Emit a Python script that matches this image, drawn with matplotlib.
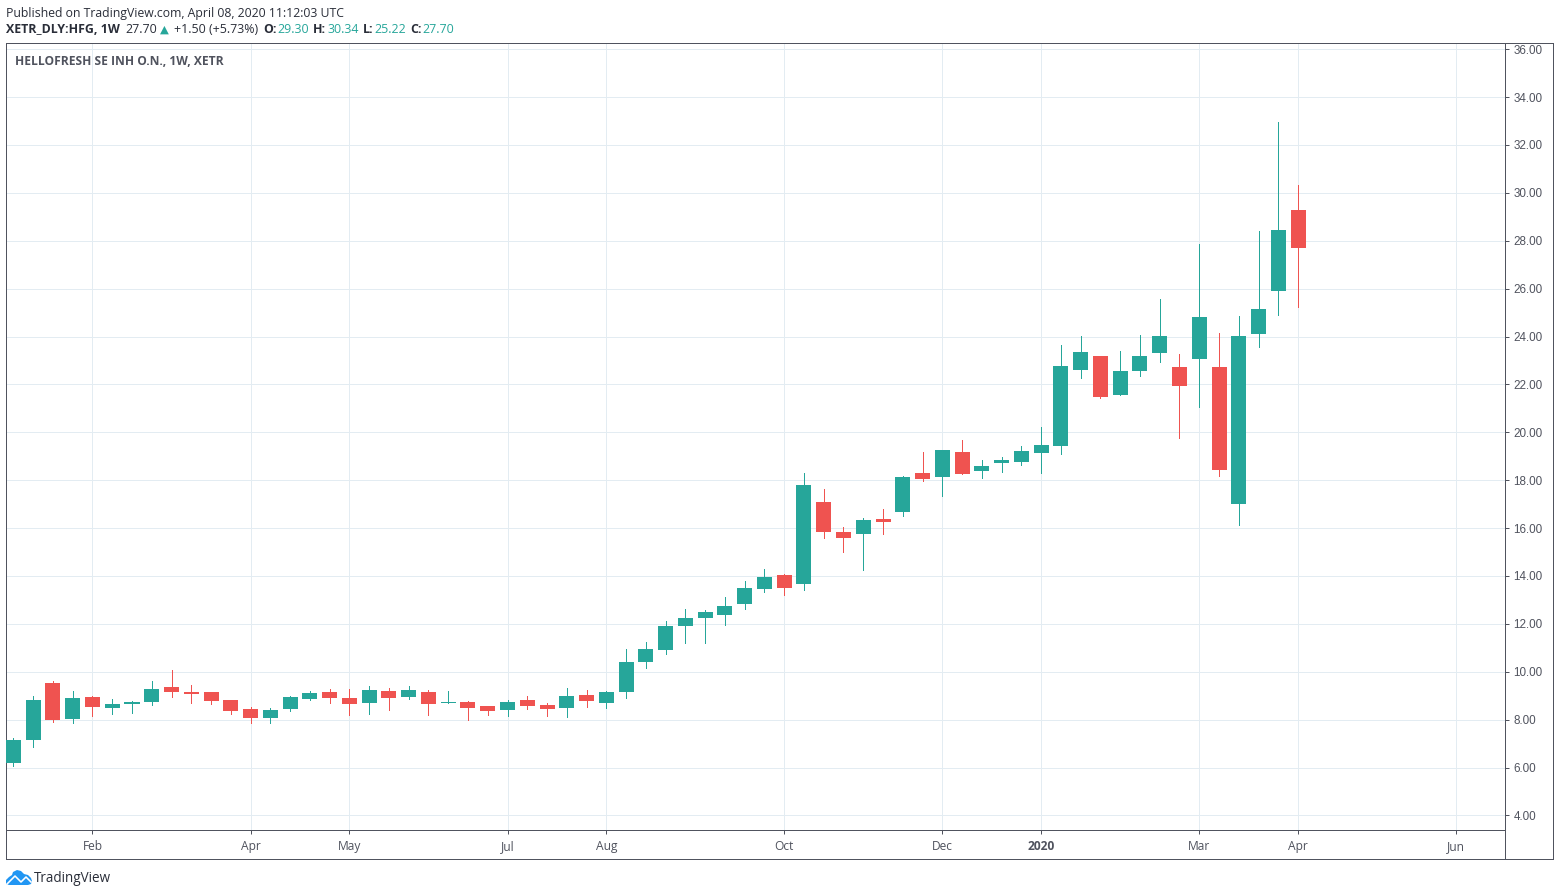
import matplotlib
matplotlib.use("Agg")
import matplotlib.pyplot as plt
from matplotlib.lines import Line2D
from matplotlib.patches import Rectangle, Polygon

opens = [6.20, 7.14, 9.51, 8.01, 8.93, 8.47, 8.64, 8.72, 9.35, 9.14, 9.14, 8.81, 8.43, 8.06, 8.43, 8.85,
         9.14, 8.89, 8.68, 9.18, 8.93, 9.14, 8.68, 8.72, 8.56, 8.39, 8.81, 8.60, 8.47, 9.01, 8.68, 9.14,
         10.39, 10.89, 11.93, 12.26, 12.39, 12.81, 13.47, 14.06, 13.68, 17.10, 15.85, 15.76, 16.39, 16.68,
         18.31, 18.14, 19.18, 18.39, 18.72, 18.76, 19.14, 19.43, 22.60, 23.18, 21.57, 22.57, 23.33, 22.74,
         23.08, 22.74, 17.02, 24.12, 25.92, 29.30]
highs = [7.22, 8.97, 9.60, 9.18, 8.97, 8.85, 8.76, 9.60, 10.06, 9.43, 9.14, 8.81, 8.51, 8.47, 8.97, 9.18,
         9.26, 9.26, 9.39, 9.31, 9.39, 9.22, 9.18, 8.76, 8.56, 8.81, 8.97, 8.68, 9.31, 9.22, 9.18, 10.97,
         11.26, 12.10, 12.60, 12.56, 13.14, 13.81, 14.31, 14.10, 18.31, 17.64, 16.06, 16.43, 16.81, 18.18,
         19.18, 19.26, 19.68, 18.85, 18.97, 19.43, 20.22, 23.64, 24.01, 23.18, 23.41, 24.08, 25.58, 23.28,
         27.88, 24.16, 24.87, 28.42, 32.94, 30.34]
lows = [6.05, 6.85, 7.89, 7.85, 8.14, 8.22, 8.26, 8.60, 8.93, 8.68, 8.64, 8.22, 7.85, 7.85, 8.35, 8.81,
        8.68, 8.18, 8.22, 8.39, 8.85, 8.18, 8.68, 7.97, 8.18, 8.14, 8.43, 8.14, 8.10, 8.51, 8.47, 8.89,
        10.14, 10.76, 11.18, 11.18, 11.97, 12.60, 13.35, 13.22, 13.43, 15.60, 15.01, 14.26, 15.76, 16.51,
        17.97, 17.35, 18.26, 18.10, 18.35, 18.64, 18.31, 19.10, 22.26, 21.43, 21.57, 22.36, 22.95, 19.77,
        21.07, 18.19, 16.14, 23.58, 24.91, 25.22]
closes = [7.14, 8.81, 7.97, 8.89, 8.51, 8.64, 8.72, 9.26, 9.14, 9.06, 8.76, 8.35, 8.06, 8.39, 8.93, 9.10,
          8.89, 8.64, 9.22, 8.89, 9.22, 8.64, 8.74, 8.47, 8.35, 8.72, 8.56, 8.43, 8.97, 8.76, 9.14, 10.39,
          10.93, 11.89, 12.26, 12.51, 12.76, 13.51, 13.97, 13.51, 17.81, 15.85, 15.60, 16.35, 16.26, 18.14,
          18.06, 19.26, 18.26, 18.60, 18.85, 19.22, 19.47, 22.76, 23.35, 21.47, 22.57, 23.20, 24.04, 21.95,
          24.83, 18.44, 24.04, 25.16, 28.47, 27.70]

price_ticks = [4, 6, 8, 10, 12, 14, 16, 18, 20, 22, 24, 26, 28, 30, 32, 34, 36]
month_idx = [4, 12, 17, 25, 30, 39, 47, 52, 60, 65, 73]
month_labels = ["Feb", "Apr", "May", "Jul", "Aug", "Oct", "Dec", "2020", "Mar", "Apr", "Jun"]

UP, DOWN = "#26A69A", "#EF5350"
GRID, FRAME, TXT = "#E3ECF2", "#50535E", "#50535E"
W, H = 1560, 896
HEAD = "Open Sans"
px = 72 / 100  # points per pixel


def fx(x):
    return x / W


def fy(y):
    return 1 - y / H


fig = plt.figure(figsize=(W / 100, H / 100), dpi=100, facecolor="white")
L, R, T, B = 6.0, 1505.0, 43.0, 830.0
ax = fig.add_axes([fx(L), fy(B), (R - L) / W, (B - T) / H])
ax.set_xlim(-0.375, 75.47)
ax.set_ylim(3.39, 36.26)
ax.set_axisbelow(True)
ax.grid(True, color=GRID, lw=1.0 * px)

for i, (o, h, l, c) in enumerate(zip(opens, highs, lows, closes)):
    col = UP if c >= o else DOWN
    ax.vlines(i, l, h, color=col, lw=1.0 * px, antialiased=False, zorder=2)
    ax.add_patch(Rectangle((i - 0.38, min(o, c)), 0.76, abs(c - o), facecolor=col,
                           edgecolor="none", zorder=3))

ax.yaxis.tick_right()
ax.set_yticks(price_ticks, [f"{v:.2f}" for v in price_ticks])
ax.set_xticks(month_idx, month_labels)
ax.tick_params(axis="y", length=4 * px, width=1 * px, color=FRAME, pad=3.2,
               labelsize=11.6 * px, labelcolor=TXT)
ax.tick_params(axis="x", length=3.5 * px, width=1 * px, color=FRAME, pad=4.9,
               labelsize=12 * px, labelcolor=TXT)
for t in ax.get_yticklabels():
    t.set_fontfamily("Liberation Sans")
for t, s in zip(ax.get_xticklabels(), month_labels):
    t.set_fontfamily(HEAD)
    if s == "2020":
        t.set_fontweight("bold")
for s in ax.spines.values():
    s.set_color(FRAME)
    s.set_linewidth(1 * px)

# outer frame around the time and price scales
OR, OB = 1553.0, 859.0
for xs, ys in [((R, OR), (T, T)), ((OR, OR), (T, OB)), ((L, OR), (OB, OB)), ((L, L), (B, OB)), ((R, R), (B, OB))]:
    fig.add_artist(Line2D([fx(x) for x in xs], [fy(y) for y in ys], color=FRAME, lw=1 * px))


def label(x, y, s, color="#131722", weight="normal", size=12.2, family=HEAD):
    fig.text(fx(x), fy(y), s, color=color, fontweight=weight, fontsize=size * px,
             family=family, ha="left", va="center")


label(6, 13, "Published on TradingView.com, April 08, 2020 11:12:03 UTC", color="#2A2E39")
label(6, 29.5, "XETR_DLY:HFG, 1W", weight="bold", color="#2A2E39", size=12.4)
label(125, 29.5, "27.70", color="#2A2E39", size=12.4)
label(159.5, 29.5, "\u25B2", color=UP, size=11.5, family="DejaVu Sans")
label(174, 29.5, "+1.50 (+5.73%)", color="#2A2E39", size=12.4)
for x, s in [(263, "O:"), (313, "H:"), (363, "L:"), (410, "C:")]:
    label(x, 29.5, s, weight="bold", color="#2A2E39", size=12.4)
for x, s in [(277, "29.30"), (327, "30.34"), (374, "25.22"), (422, "27.70")]:
    label(x, 29.5, s, color=UP, size=12.4)
label(15, 61.5, "HELLOFRESH SE INH O.N., 1W, XETR", weight="bold", color=TXT, size=12)
label(34, 878, "TradingView", color="#2A2E39", size=13.5)

# TradingView logo
BLUE = "#2196F3"
fig.add_artist(Polygon([(fx(x), fy(y)) for x, y in
                        [(6, 884), (6, 880), (9, 877), (12, 875), (13, 872), (17, 870), (21, 871),
                         (24, 874), (28, 875), (31, 878), (32, 881), (31, 884), (28, 885), (9, 885)]],
                       closed=True, facecolor=BLUE, edgecolor="none", transform=fig.transFigure))
fig.add_artist(Line2D([fx(x) for x in (7, 15, 21, 26, 31)], [fy(y) for y in (884, 876, 882, 877, 882)],
                      color="white", lw=1.6 * px))

fig.savefig("out.png", dpi=100)
